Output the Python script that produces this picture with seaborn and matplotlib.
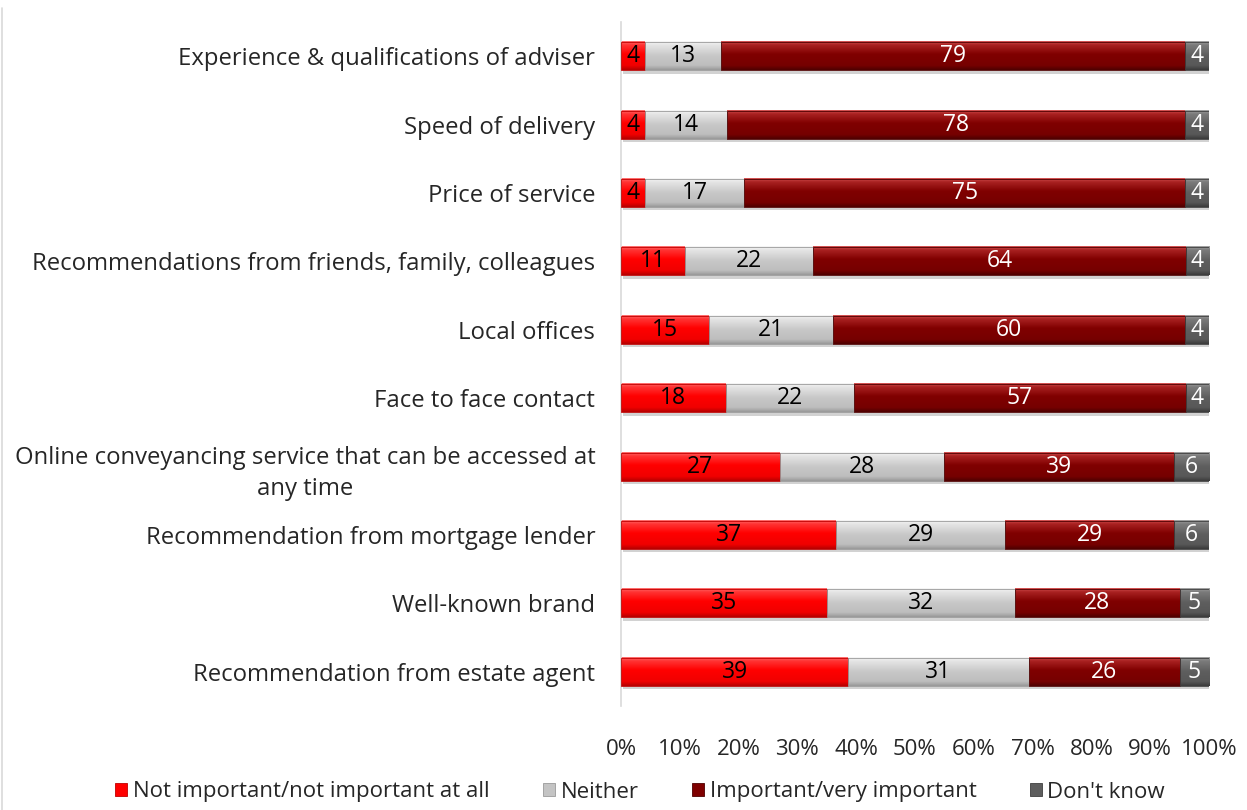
import numpy as np
import pandas as pd
import matplotlib
matplotlib.use("Agg")
import matplotlib.pyplot as plt
import matplotlib.patheffects as pe
from matplotlib.patches import Rectangle
from matplotlib.lines import Line2D
import seaborn as sns

# ---- data -------------------------------------------------------------
factors = [
    "Experience & qualifications of adviser",
    "Speed of delivery",
    "Price of service",
    "Recommendations from friends, family, colleagues",
    "Local offices",
    "Face to face contact",
    "Online conveyancing service that can be accessed at\nany time",
    "Recommendation from mortgage lender",
    "Well-known brand",
    "Recommendation from estate agent",
]
not_important = [4, 4, 4, 11, 15, 18, 27, 37, 35, 39]
neither = [13, 14, 17, 22, 21, 22, 28, 29, 32, 31]
important = [79, 78, 75, 64, 60, 57, 39, 29, 28, 26]
dont_know = [4, 4, 4, 4, 4, 4, 6, 6, 5, 5]
series_names = [
    "Not important/not important at all",
    "Neither",
    "Important/very important",
    "Don't know",
]
x_ticks = [0, 10, 20, 30, 40, 50, 60, 70, 80, 90, 100]
x_tick_labels = ["0%", "10%", "20%", "30%", "40%", "50%", "60%", "70%", "80%", "90%", "100%"]

# ---- styling ------------------------------------------------------------
sns.set_theme(style="white")
FONT = ["Open Sans", "DejaVu Sans"]
plt.rcParams["font.family"] = FONT

base_colors = ["#FF0000", "#C4C4C4", "#7F0000", "#5E5E5E"]
label_colors = ["black", "black", "white", "white"]
# vertical shading stops (position, rgb) per series: lighter rim on top, darker bottom
shade_stops = [
    [(0.0, "#FF7070"), (0.12, "#FF3535"), (0.45, "#FF0000"), (0.85, "#F00000"), (1.0, "#B80000")],
    [(0.0, "#F6F6F6"), (0.12, "#E6E6E6"), (0.5, "#C8C8C8"), (0.85, "#BDBDBD"), (1.0, "#9A9A9A")],
    [(0.0, "#D45555"), (0.12, "#AA2222"), (0.45, "#800000"), (0.85, "#760000"), (1.0, "#500000")],
    [(0.0, "#A4A4A4"), (0.12, "#7C7C7C"), (0.5, "#5E5E5E"), (0.85, "#585858"), (1.0, "#3C3C3C")],
]
edge_colors = ["#C00000", "#9A9A9A", "#500000", "#404040"]


def shade_image(stops, n=48):
    pos = np.array([s[0] for s in stops])
    rgb = np.array([matplotlib.colors.to_rgb(s[1]) for s in stops])
    t = np.linspace(0, 1, n)
    col = np.stack([np.interp(t, pos, rgb[:, k]) for k in range(3)], axis=1)
    return col[:, None, :]


W, H = 1247, 810
fig = plt.figure(figsize=(W / 100, H / 100), dpi=100)
ax = fig.add_axes([621 / W, 1 - 706 / H, (1209 - 621) / W, (706 - 22) / H])

series = [not_important, neither, important, dont_know]
values = np.array(series, dtype=float)
totals = values.sum(axis=0)
shares = values / totals * 100.0
lefts = np.vstack([np.zeros(len(factors)), np.cumsum(shares, axis=0)[:-1]])

for i, name in enumerate(series_names):
    df = pd.DataFrame({"factor": factors, "share": shares[i]})
    n_before = len(ax.patches)
    sns.barplot(data=df, x="share", y="factor", orient="h", color=base_colors[i],
                saturation=1, width=0.41, ax=ax, linewidth=0)
    bars = ax.patches[n_before:]
    img = shade_image(shade_stops[i])
    for bar, left in zip(bars, lefts[i]):
        bar.set_x(left)
        bar.set_path_effects([
            pe.SimplePatchShadow(offset=(1.5, -2.5), shadow_rgbFace="#808080", alpha=0.35),
            pe.Normal(),
        ])
        x0, y0, w, h = bar.get_x(), bar.get_y(), bar.get_width(), bar.get_height()
        ax.imshow(img, extent=(x0, x0 + w, y0 + h, y0), aspect="auto",
                  interpolation="bilinear", zorder=2)
        ax.add_patch(Rectangle((x0, y0), w, h, fill=False, ec=edge_colors[i],
                               lw=0.6, zorder=3))
    ax.bar_label(ax.containers[-1], labels=[str(v) for v in series[i]],
                 label_type="center", color=label_colors[i], fontsize=16.5,
                 family=FONT, zorder=4)

ax.set_xlim(0, 100)
ax.set_ylim(len(factors) - 0.5, -0.5)
ax.set_aspect("auto")
ax.set_xlabel("")
ax.set_ylabel("")
ax.set_xticks(x_ticks)
ax.set_xticklabels(x_tick_labels, fontsize=16, family=FONT)
ax.set_yticks(range(len(factors)))
ax.set_yticklabels(factors, fontsize=17.2, family=FONT, multialignment="center",
                   linespacing=1.42)
ax.tick_params(axis="x", length=0, pad=24)
ax.tick_params(axis="y", length=0, pad=18.5)
for s in ["top", "right", "bottom"]:
    ax.spines[s].set_visible(False)
ax.spines["left"].set_color("#D9D9D9")
ax.spines["left"].set_linewidth(1.2)
ax.grid(False)

# thin frame line along the left edge
fig.add_artist(Line2D([2 / W, 2 / W], [0, 1 - 8 / H], transform=fig.transFigure,
                      color="#D9D9D9", lw=1.2))

handles = [matplotlib.patches.Patch(facecolor=c, edgecolor=e, lw=0.6)
           for c, e in zip(base_colors, edge_colors)]
fig.legend(handles, series_names, loc="center", ncol=4,
           bbox_to_anchor=(640 / W, 1 - 792 / H), frameon=False,
           prop={"family": FONT, "size": 16}, handlelength=0.55, handleheight=0.55,
           handletextpad=0.25, columnspacing=2.4)

fig.savefig("out.png", dpi=100)
